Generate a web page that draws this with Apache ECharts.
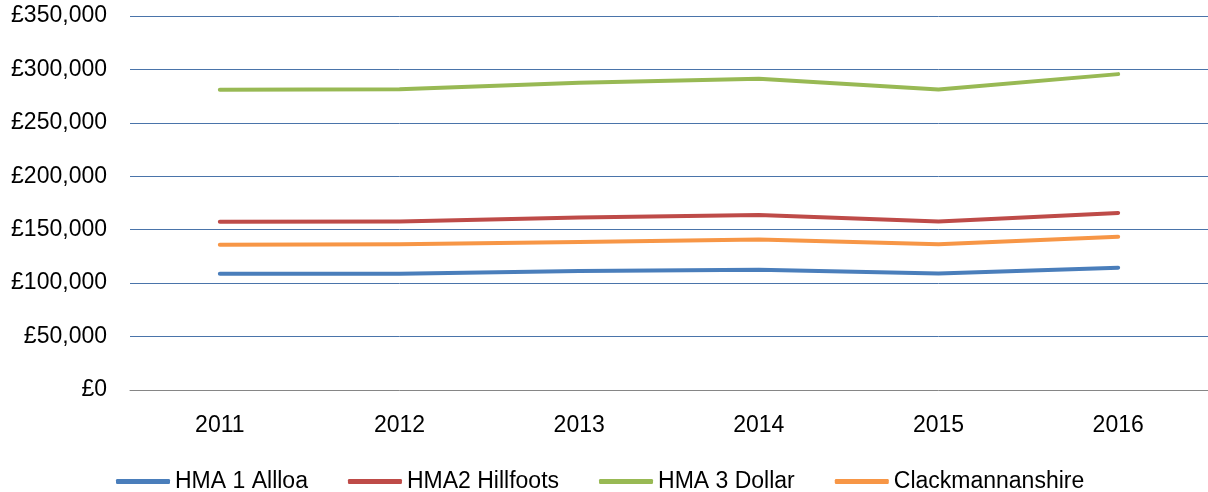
<!DOCTYPE html>
<html>
<head>
<meta charset="utf-8">
<script src="https://cdn.jsdelivr.net/npm/echarts@6/dist/echarts.min.js"></script>
<style>
  html, body { margin: 0; padding: 0; background: #fff; }
  #chart { width: 1208px; height: 492px; }
</style>
</head>
<body>
<div id="chart"></div>
<script>
const years = ["2011", "2012", "2013", "2014", "2015", "2016"];
const seriesNames = ["HMA 1 Allloa", "HMA2 Hillfoots", "HMA 3 Dollar", "Clackmannanshire"];
const alloa = [108800, 108900, 111300, 112600, 109100, 114500];
const hillfoots = [157500, 157800, 161500, 163800, 157800, 165700];
const dollar = [281000, 281500, 287500, 291200, 281200, 295600];
const clacks = [136000, 136300, 138600, 140900, 136500, 143400];
const colors = ["#4a7ebb", "#be4b48", "#98b954", "#f79646"];

const font = "Liberation Sans, Arial, sans-serif";
const chart = echarts.init(document.getElementById("chart"));

const makeSeries = (name, data, i) => ({
  name,
  type: "line",
  data,
  symbol: "none",
  smooth: false,
  z: i === 0 ? 4 : 3,
  lineStyle: { width: 4, color: colors[i], cap: "round", join: "round" },
  itemStyle: { color: colors[i] },
});

chart.setOption({
  animation: false,
  backgroundColor: "#fff",
  grid: { left: 130, right: 0, top: 16, bottom: 102 },
  xAxis: {
    type: "category",
    data: years,
    boundaryGap: true,
    axisLine: { lineStyle: { color: "#868686", width: 1 } },
    axisTick: { show: false },
    axisLabel: { color: "#000", fontFamily: font, fontSize: 23, margin: 24, lineHeight: 23 },
  },
  yAxis: {
    type: "value",
    min: 0,
    max: 350000,
    interval: 50000,
    axisLine: { show: false },
    axisTick: { show: false },
    axisLabel: {
      color: "#000",
      fontFamily: font,
      fontSize: 23,
      margin: 23,
      formatter: (v) => "£" + v.toLocaleString("en-GB"),
    },
    splitLine: {
      lineStyle: { color: "#4a74aa", width: 1 },
      showMinLine: false,
    },
  },
  legend: {
    data: seriesNames,
    left: 111,
    top: 465,
    icon: "roundRect",
    itemWidth: 54,
    itemHeight: 5,
    itemGap: 40,
    textStyle: { color: "#000", fontFamily: font, fontSize: 23, padding: [0, 0, 0, 0] },
  },
  series: [
    makeSeries(seriesNames[0], alloa, 0),
    makeSeries(seriesNames[1], hillfoots, 1),
    makeSeries(seriesNames[2], dollar, 2),
    makeSeries(seriesNames[3], clacks, 3),
  ],
});
</script>
</body>
</html>
